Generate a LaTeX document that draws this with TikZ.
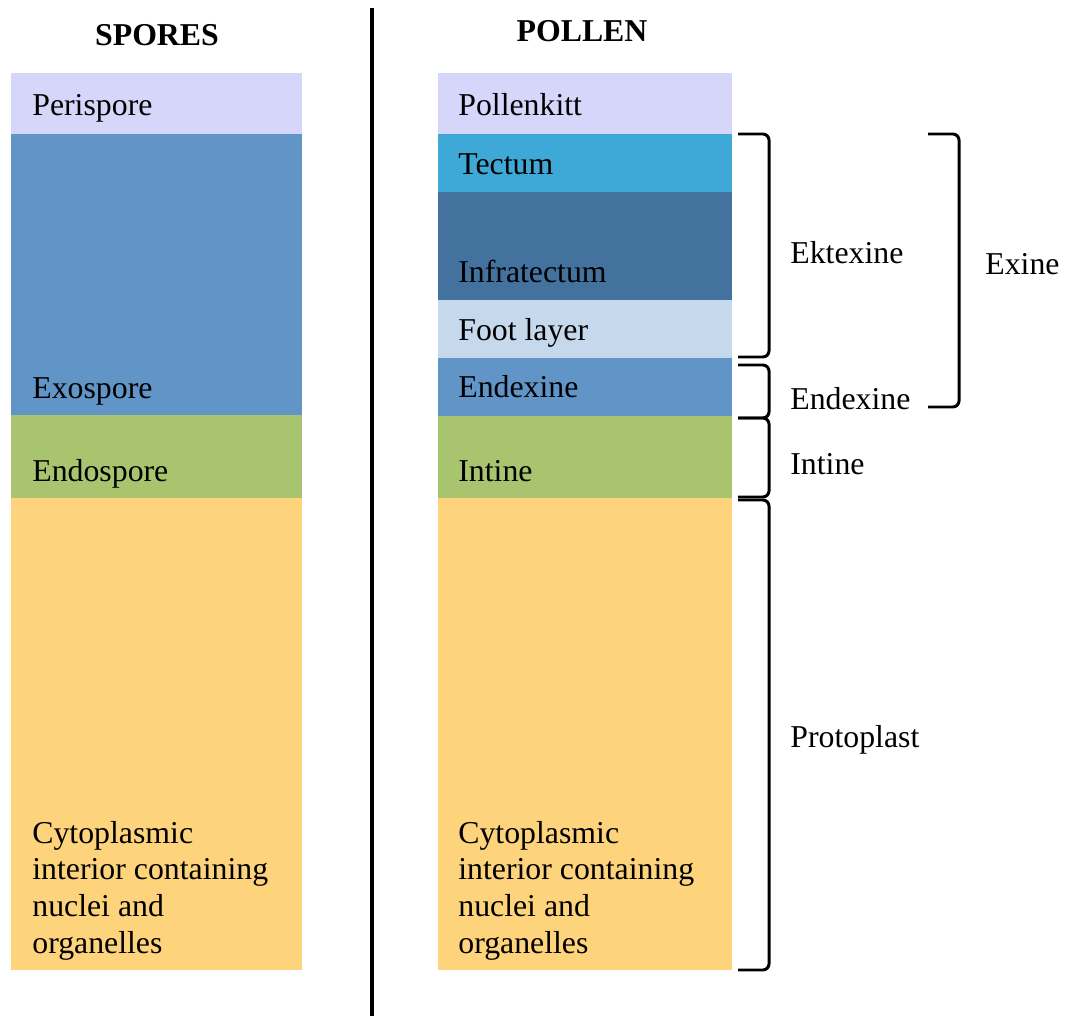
\documentclass[tikz,border=0pt]{standalone}
\usepackage{fontspec}
\setmainfont{Liberation Serif}
\usetikzlibrary{calc,positioning}

\definecolor{perispore}{HTML}{D6D6FA}
\definecolor{exospore}{HTML}{6195C8}
\definecolor{endospore}{HTML}{A9C46E}
\definecolor{cytoplasm}{HTML}{FDD37C}
\definecolor{tectum}{HTML}{3EA9D6}
\definecolor{infratectum}{HTML}{44729F}
\definecolor{footlayer}{HTML}{C6D9EC}

\tikzset{
    lbl/.style={anchor=base west, inner sep=0pt, align=left,
        font=\fontsize{18.1}{20.8}\selectfont},
    heading/.style={anchor=base, inner sep=0pt,
        font=\fontsize{18.1}{20.8}\selectfont\bfseries},
    brace/.style={line width=1.7pt, rounded corners=3.5pt},
    divider/.style={line width=2.2pt}
}

\begin{document}
\begin{tikzpicture}[x=0.02cm, y=-0.02cm]
    \useasboundingbox (0,0) rectangle (1068,1016);
    % spores
    \begin{scope}[shift={(11, 0)}]
        \fill[perispore] (0, 73) rectangle (291, 134);
        \fill[exospore] (0, 134) rectangle (291, 415);
        \fill[endospore] (0, 415) rectangle (291, 498);
        \fill[cytoplasm] (0, 498) rectangle (291, 970);
        \node[heading] (spores) at (146, 46) {SPORES};
        \node[lbl] (peri) at (21, 116) {Perispore};
        \node[lbl] (exo) at (21, 399) {Exospore};
        \node[lbl] (endo) at (21, 481) {Endospore};
        \node[lbl] (cyto-s) at (21, 953) {Cytoplasmic\\interior containing\\nuclei and\\organelles};
    \end{scope}
    % divider
    \coordinate (div-top) at (372, 8);
    \coordinate (div-bot) at (372, 1016);
    \draw[divider] (div-top) -- (div-bot);
    % pollen
    \begin{scope}[shift={(438, 0)}]
        \fill[perispore] (0, 73) rectangle (294, 134);
        \fill[tectum] (0, 134) rectangle (294, 192);
        \fill[infratectum] (0, 192) rectangle (294, 300);
        \fill[footlayer] (0, 300) rectangle (294, 358);
        \fill[exospore] (0, 358) rectangle (294, 416);
        \fill[endospore] (0, 416) rectangle (294, 498);
        \fill[cytoplasm] (0, 498) rectangle (294, 970);
        \node[heading] (pollen) at (144, 42) {POLLEN};
        \node[lbl] (kitt) at (20, 116) {Pollenkitt};
        \node[lbl] (tect) at (20, 175) {Tectum};
        \node[lbl] (infra) at (20, 283) {Infratectum};
        \node[lbl] (foot) at (20, 341) {Foot layer};
        \node[lbl] (endex) at (20, 398) {Endexine};
        \node[lbl] (intine) at (20, 481) {Intine};
        \node[lbl] (cyto-p) at (20, 953) {Cytoplasmic\\interior containing\\nuclei and\\organelles};
    \end{scope}
    % braces
    \coordinate (ekt-a) at (738, 134);
    \coordinate (ekt-b) at (738, 357);
    \coordinate (end-a) at (738, 365);
    \coordinate (end-b) at (738, 418);
    \coordinate (int-a) at (738, 418);
    \coordinate (int-b) at (738, 497);
    \coordinate (pro-a) at (738, 500);
    \coordinate (pro-b) at (738, 970);
    \coordinate (exi-a) at (928, 134);
    \coordinate (exi-b) at (928, 407);
    \draw[brace] (ekt-a) -| ($(ekt-b)+(31, 0)$) -- (ekt-b);
    \draw[brace] (end-a) -| ($(end-b)+(31, 0)$) -- (end-b);
    \draw[brace] (int-a) -| ($(int-b)+(31, 0)$) -- (int-b);
    \draw[brace] (pro-a) -| ($(pro-b)+(31, 0)$) -- (pro-b);
    \draw[brace] (exi-a) -| ($(exi-b)+(31, 0)$) -- (exi-b);
    \node[lbl] (ektexine) at (790, 264) {Ektexine};
    \node[lbl] (endexine) at (790, 410) {Endexine};
    \node[lbl] (intine-b) at (790, 475) {Intine};
    \node[lbl] (protoplast) at (790, 747) {Protoplast};
    \node[lbl] (exine) at (985, 275) {Exine};
\end{tikzpicture}
\end{document}
